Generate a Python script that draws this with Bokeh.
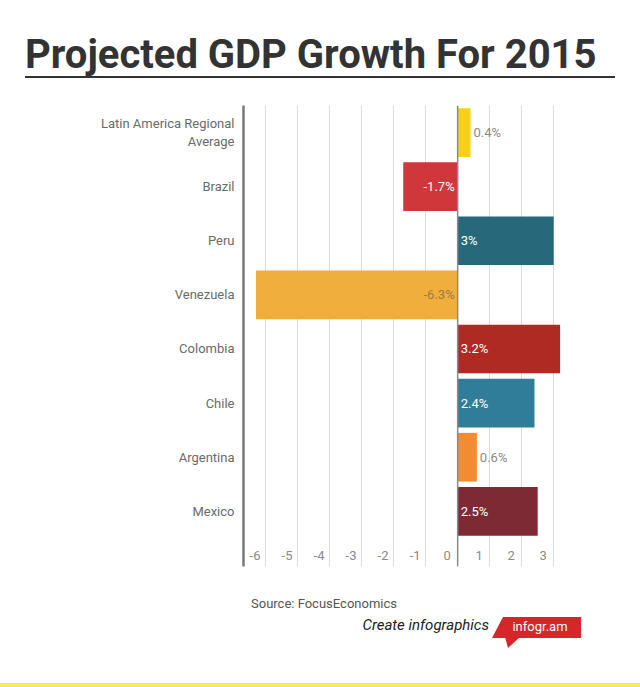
from bokeh.plotting import figure
from bokeh.models import Range1d, FixedTicker, Span, ColumnDataSource, Div
from bokeh.layouts import column
from bokeh.embed import file_html
from bokeh.resources import INLINE
from bokeh.core.properties import value

# ---------------- data ----------------
countries = ["Latin America Regional\nAverage", "Brazil", "Peru", "Venezuela",
             "Colombia", "Chile", "Argentina", "Mexico"]
growth = [0.4, -1.7, 3.0, -6.3, 3.2, 2.4, 0.6, 2.5]
bar_colors = ["#f7d117", "#d0373a", "#27687a", "#f0ae3c",
              "#b02a24", "#2f7d98", "#f08c32", "#7e2a35"]
x_ticks = [-6, -5, -4, -3, -2, -1, 0, 1, 2, 3]

TITLE = "Projected GDP Growth For 2015"
SOURCE = "Source: FocusEconomics"
CREATE = "Create infographics"
BRAND = "infogr.am"

FONT = "Roboto"
W = 640

# ---------------- header (HTML text) ----------------
header_html = f"""
<div style="position:relative;width:{W}px;height:100px;margin:0;padding:0;">
  <div style="position:absolute;left:25px;top:35px;font-family:Roboto,sans-serif;
       font-weight:bold;font-size:40px;line-height:39px;color:#333333;
       white-space:nowrap;">{TITLE}</div>
  <div style="position:absolute;left:25px;top:76px;width:590px;height:2px;
       background:#333333;"></div>
</div>
"""
hdr = Div(text=header_html, width=W, height=100, margin=0)

# ---------------- main chart ----------------
idx = list(range(len(countries)))
p = figure(width=W, height=490, x_range=Range1d(-6.69, 3.4),
           y_range=Range1d(len(countries) + 0.02, -0.5),
           output_backend="svg", toolbar_location=None,
           min_border_left=243, min_border_right=74, min_border_top=5,
           min_border_bottom=24)
p.outline_line_color = None
p.ygrid.visible = False
p.xgrid.ticker = FixedTicker(ticks=x_ticks)
p.xgrid.grid_line_color = "#dcdcdc"
p.xgrid.grid_line_width = 1

p.hbar(y=idx, left=0, right=growth, height=0.9, fill_color=bar_colors,
       line_color=None)

p.add_layout(Span(location=0, dimension="height", line_color="#8a8a8a",
                  line_width=1.5))

# y axis with category names
p.yaxis.ticker = FixedTicker(ticks=idx)
p.yaxis.major_label_overrides = {i: c for i, c in zip(idx, countries)}
p.yaxis.major_tick_line_color = None
p.yaxis.minor_tick_line_color = None
p.yaxis.major_tick_out = 0
p.yaxis.major_tick_in = 0
p.yaxis.axis_line_color = "#7a7a7a"
p.yaxis.axis_line_width = 2.5
p.yaxis.major_label_standoff = 9
p.yaxis.major_label_text_font = FONT
p.yaxis.major_label_text_font_size = "13px"
p.yaxis.major_label_text_color = "#6a6a6a"

# x axis: labels sit just left of each gridline, inside the plot
shift = 0.33
p.xaxis.ticker = FixedTicker(ticks=[t - shift for t in x_ticks])
p.xaxis.major_label_overrides = {t - shift: str(t) for t in x_ticks}
p.xaxis.axis_line_color = None
p.xaxis.major_tick_line_color = None
p.xaxis.minor_tick_line_color = None
p.xaxis.major_tick_out = 0
p.xaxis.major_tick_in = 0
p.xaxis.major_label_standoff = -16
p.xaxis.major_label_text_align = "right"
p.xaxis.major_label_text_font = FONT
p.xaxis.major_label_text_font_size = "13px"
p.xaxis.major_label_text_color = "#8a8a8a"

# value labels
labels = [f"{v:g}%" for v in growth]
inside_pos = dict(x=[], y=[], t=[], c=[])
inside_neg = dict(x=[], y=[], t=[], c=[])
outside = dict(x=[], y=[], t=[], c=[])
for i, v in enumerate(growth):
    if abs(v) >= 1:
        col = "#ffffff" if v > -5 else "#a07a45"
        d = inside_pos if v > 0 else inside_neg
        d["x"].append(0); d["y"].append(i); d["t"].append(labels[i]); d["c"].append(col)
    else:
        outside["x"].append(v); outside["y"].append(i); outside["t"].append(labels[i])
        outside["c"].append("#8a8a8a")

common = dict(text_font=value(FONT), text_font_size="13px", text_baseline="middle")
p.text(x="x", y="y", text="t", text_color="c", source=ColumnDataSource(inside_pos),
       text_align="left", x_offset=3, **common)
p.text(x="x", y="y", text="t", text_color="c", source=ColumnDataSource(inside_neg),
       text_align="right", x_offset=-3, **common)
p.text(x="x", y="y", text="t", text_color="c", source=ColumnDataSource(outside),
       text_align="left", x_offset=3, **common)

# ---------------- footer (HTML) ----------------
footer_html = f"""
<div style="position:relative;width:{W}px;height:97px;margin:0;padding:0;
     font-family:Roboto,sans-serif;">
  <div style="position:absolute;left:251px;top:6px;font-size:13px;line-height:16px;
       color:#555555;white-space:nowrap;">{SOURCE}</div>
  <div style="position:absolute;right:{W - 489}px;top:26px;font-size:15px;
       line-height:18px;font-style:italic;color:#222222;white-space:nowrap;">{CREATE}</div>
  <div style="position:absolute;left:492px;top:27px;width:89px;height:21px;
       background:#d6262a;clip-path:polygon(11px 0,100% 0,100% 100%,0 100%);"></div>
  <div style="position:absolute;left:505px;top:47px;width:15px;height:11px;
       background:#d6262a;clip-path:polygon(0 0,3px 100%,100% 0);"></div>
  <div style="position:absolute;left:500px;top:29px;width:80px;text-align:center;
       font-size:13px;line-height:16px;color:#ffffff;white-space:nowrap;">{BRAND}</div>
  <div style="position:absolute;left:0;top:93px;width:{W}px;height:4px;
       background:#f6e95c;"></div>
</div>
"""
ftr = Div(text=footer_html, width=W, height=97, margin=0)

layout = column(hdr, p, ftr)
open("out.html", "w").write(file_html(layout, INLINE))
